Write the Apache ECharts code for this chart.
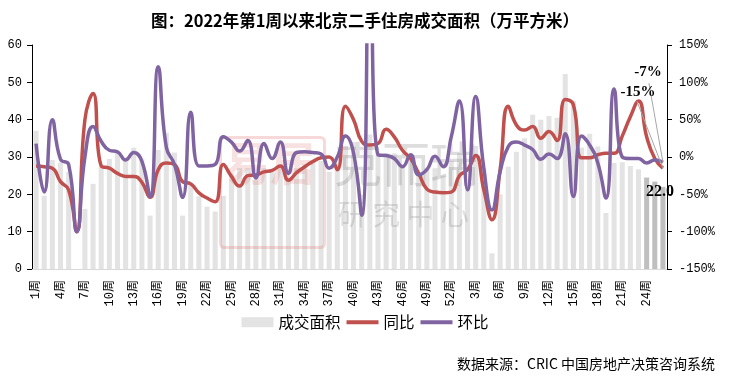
<!DOCTYPE html>
<html><head><meta charset="utf-8">
<script src="https://cdn.jsdelivr.net/npm/echarts/dist/echarts.min.js"></script>
<style>html,body{margin:0;padding:0;background:#fff}#c{width:730px;height:379px}</style>
</head><body><div id="c"></div>
<script>
const categories = [
 '1周','2周','3周','4周','5周','6周','7周','8周','9周','10周','11周','12周','13周','14周','15周','16周','17周','18周','19周','20周',
 '21周','22周','23周','24周','25周','26周','27周','28周','29周','30周','31周','32周','33周','34周','35周','36周','37周','38周','39周','40周',
 '41周','42周','43周','44周','45周','46周','47周','48周','49周','50周','51周','52周',
 '1周','2周','3周','4周','5周','6周','7周','8周','9周','10周','11周','12周','13周','14周','15周','16周','17周','18周','19周','20周',
 '21周','22周','23周','24周','25周','26周'
];
const area = [
 37.0,19.6,29.2,28.5,26.0,0.0,16.1,22.8,27.4,29.5,31.1,29.5,32.5,29.4,14.3,31.9,36.5,31.2,14.3,23.0,
 19.5,16.7,15.4,19.6,25.7,27.0,27.0,24.0,27.0,26.0,28.0,24.0,27.0,28.0,29.0,29.0,26.0,28.0,33.0,34.0,
 20.0,36.0,31.0,31.0,31.0,28.0,29.0,25.0,27.0,27.0,25.0,29.0,
 31.0,22.0,33.0,27.0,4.2,20.0,27.4,31.4,35.0,41.3,40.0,41.0,40.5,52.2,45.0,32.5,36.2,32.8,15.0,28.4,
 28.6,27.6,26.7,24.5,23.4,22.0
];
const yoy = [
 -12,-13,-15,-33,-44,-100,50,85,-12,-15,-22,-26,-26,-34,-54,-17,-8,-10,-33,-36,
 -48,-55,-60,-10,-26,-39,-25,-24,-20,-18,-12,-31,-21,-13,-6,-1,0,-17,68,50,
 21,16,18,37,27,9,-2,-22,-43,-47,-48,-47,
 -25,-17,2,-44,-84,-17,68,43,36,41,25,34,22,77,70,-1,-1,3,5,5,
 28,54,75,27,-2,-15
];
const mom = [
 18,-47,50,-3,-10,-100,0,41,21,9,7,-4,6,-6,-53,121,13,-10,-54,60,
 -12,-12,-10,27,20,8,22,-28,18,-2,20,-22,6,7,6,4,-15,0,28,5,
 -78,300,3,2,-2,-13,3,-24,-17,1,-13,27,
 75,-44,81,-15,-71,-20,14,20,16,10,-3,4,-2,31,-53,28,16,-8,-55,91,
 0,-2,-2,-8,-4,-7
];
const leftTicks = {min:0, max:60, interval:10};
const rightTicks = {min:-150, max:150, interval:50};

const highlightCount = 3;
const numFont = "'Liberation Mono','Noto Sans CJK SC',monospace";
const cjkFont = "'Noto Sans CJK SC',sans-serif";
const endFont = "bold 15px 'Liberation Serif',serif";

const chart = echarts.init(document.getElementById('c'), null, {renderer:'canvas'});
const n = area.length;
const barData = area.map((v,i)=>{
  const o = {value:v};
  if (i >= n - highlightCount) o.itemStyle = {color:'#bfbfbf'};
  if (i === n-1) o.label = {show:true};
  return o;
});

const baseGraphic = [
  {type:'rect', left:218, top:135, shape:{width:104,height:110,r:4}, z:1, silent:true,
    style:{fill:'none', stroke:'rgba(225,120,120,0.28)', lineWidth:3}},
  {type:'text', left:224, top:140, z:1, silent:true,
    style:{text:'易居', font:"bold 46px 'Noto Sans CJK SC'", fill:'rgba(225,120,120,0.22)'}},
  {type:'text', left:334, top:140, z:1, silent:true,
    style:{text:'克而瑞', font:"48px 'Noto Sans CJK SC'", fill:'rgba(120,120,120,0.25)'}},
  {type:'text', left:338, top:200, z:1, silent:true,
    style:{text:'研 究 中 心', font:"28px 'Noto Sans CJK SC'", fill:'rgba(120,120,120,0.22)'}},
  {type:'text', right:15, top:357, silent:true,
    style:{text:'数据来源：CRIC 中国房地产决策咨询系统', font:"14px 'Noto Sans CJK SC'", fill:'#000'}}
];

chart.setOption({
  animation:false,
  title:{text:'图：2022年第1周以来北京二手住房成交面积（万平方米）', left:'center', top:7,
    textStyle:{fontFamily:cjkFont, fontSize:16.5, fontWeight:'bold', color:'#000'}},
  graphic:baseGraphic,
  legend:{bottom:44, left:'center', itemWidth:32, itemHeight:10, itemGap:6,
    textStyle:{fontFamily:cjkFont, fontSize:15.5, color:'#000'},
    data:[{name:'成交面积', icon:'rect'}, {name:'同比', icon:'path://M0,0 L32,0 L32,4 L0,4 Z'}, {name:'环比', icon:'path://M0,0 L32,0 L32,4 L0,4 Z'}]},
  grid:{left:32, right:63, top:45, bottom:110, containLabel:false},
  xAxis:{type:'category', data:categories, boundaryGap:true,
    axisLine:{show:true, lineStyle:{color:'#d9d9d9', width:1}},
    axisTick:{show:false},
    axisLabel:{interval:2, rotate:90, margin:11, color:'#000', fontFamily:numFont, fontSize:12,
      padding:[0,0,7,0]}},
  yAxis:[
    {type:'value', min:leftTicks.min, max:leftTicks.max, interval:leftTicks.interval, position:'left',
      axisLine:{show:true, lineStyle:{color:'#000'}}, axisTick:{show:true, length:5, lineStyle:{color:'#000'}},
      splitLine:{show:false},
      axisLabel:{color:'#000', fontFamily:numFont, fontSize:12, margin:10}},
    {type:'value', min:rightTicks.min, max:rightTicks.max, interval:rightTicks.interval, position:'right',
      axisLine:{show:true, lineStyle:{color:'#000'}}, axisTick:{show:true, length:5, lineStyle:{color:'#000'}},
      splitLine:{show:false},
      axisLabel:{color:'#000', fontFamily:numFont, fontSize:12, margin:12, formatter:v=>v+'%'}}
  ],
  series:[
    {name:'成交面积', type:'bar', data:barData, yAxisIndex:0, barCategoryGap:'38%',
      itemStyle:{color:'#e3e3e3'}, z:0,
      label:{show:false, position:'insideTop', distance:-3, color:'#000',
        fontFamily:"'Liberation Serif',serif", fontWeight:'bold', fontSize:16,
        formatter:p=>Number(p.value).toFixed(1)},
      labelLayout:{dx:-3}},
    {name:'同比', type:'line', data:yoy, yAxisIndex:1, smooth:true, symbol:'none',
      lineStyle:{color:'#c0504d', width:3.5}, itemStyle:{color:'#c0504d'}, z:3},
    {name:'环比', type:'line', data:mom, yAxisIndex:1, smooth:true, symbol:'none',
      lineStyle:{color:'#8064a2', width:3.5}, itemStyle:{color:'#8064a2'}, z:4}
  ]
});

// end-point callouts with leader lines, anchored through the chart's own scales
function callout(values, textDx, textDy, lineDx, lineDy){
  const v = values[n-1];
  const p = chart.convertToPixel({xAxisIndex:0, yAxisIndex:1}, [n-1, v]);
  return [
    {type:'line', silent:true, z:50,
      shape:{x1:p[0]+lineDx, y1:p[1]+lineDy, x2:p[0], y2:p[1]},
      style:{stroke:'#a6a6a6', lineWidth:1}},
    {type:'text', silent:true, z:51, x:p[0]+textDx, y:p[1]+textDy,
      style:{text:v+'%', font:endFont, fill:'#000', align:'center', verticalAlign:'middle'}}
  ];
}
chart.setOption({graphic: baseGraphic.concat(
  callout(yoy, -25, -76, -26, -67),
  callout(mom, -15, -90, -14, -79)
)}, {replaceMerge:['graphic']});
</script></body></html>
